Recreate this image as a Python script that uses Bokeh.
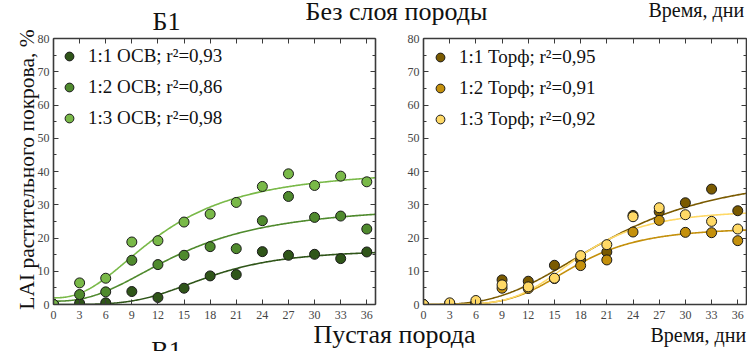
import numpy as np
from bokeh.plotting import figure
from bokeh.models import (LinearAxis, Legend, LegendItem,
                          SingleIntervalTicker, Range1d)
from bokeh.core.properties import value
from bokeh.layouts import row
from bokeh.embed import file_html
from bokeh.resources import INLINE

# ---------------- data ----------------
days = [0, 3, 6, 9, 12, 15, 18, 21, 24, 27, 30, 33, 36]

osv_11 = [0, 0.4, 0.5, 3.9, 2.1, 4.9, 8.6, 9.0, 15.9, 14.8, 15.1, 13.8, 15.8]
osv_12 = [0, 3.0, 3.8, 13.3, 12.0, 14.8, 17.4, 16.8, 25.2, 32.5, 26.2, 26.6, 22.7]
osv_13 = [0, 6.5, 7.9, 18.8, 19.2, 24.8, 27.2, 30.7, 35.5, 39.3, 35.8, 38.6, 36.9]

torf_11 = [0, 0.3, 0.5, 7.4, 7.0, 11.8, 13.4, 15.8, 26.8, 27.9, 30.6, 34.7, 28.2]
torf_12 = [0, 0.2, 0.3, 4.9, 4.8, 7.8, 11.7, 13.4, 21.8, 25.3, 21.7, 21.6, 19.2]
torf_13 = [0, 0.5, 1.2, 5.9, 5.3, 7.9, 14.7, 18.0, 26.4, 29.1, 27.0, 25.0, 22.7]

# fitted logistic curves  y = A2 + (A1 - A2) / (1 + (x / x0) ** p): (A1, A2, x0, p)
fit_osv_11 = (0.0, 16.5, 17.8, 3.9)
fit_osv_12 = (1.0, 30.0, 14.8, 2.41)
fit_osv_13 = (2.0, 41.0, 12.5, 2.33)
fit_torf_11 = (0.0, 40.0, 21.5, 3.0)
fit_torf_12 = (0.0, 23.2, 17.4, 4.4)
fit_torf_13 = (0.0, 28.5, 17.8, 4.5)

labels_osv = ["1:1 ОСВ; r²=0,93", "1:2 ОСВ; r²=0,86", "1:3 ОСВ; r²=0,98"]
labels_torf = ["1:1 Торф; r²=0,95", "1:2 Торф; r²=0,91", "1:3 Торф; r²=0,92"]

colors_osv = ["#2f5519", "#4f8a2d", "#79b948"]
colors_torf = ["#7a5a00", "#c4900c", "#ffd966"]

title_left = "Б1"
title_top = "Без слоя породы"
title_bottom = "Пустая порода"
title_b1 = "В1"
x_title = "Время, дни"
y_title = "LAI растительного покрова, %"

FONT = "Liberation Serif"
AX = "#3a3a3a"


def logistic(x, prm):
    a1, a2, x0, pw = prm
    return a2 + (a1 - a2) / (1.0 + (x / x0) ** pw)


def style_axis(ax, labels=True, minor=True, standoff=4):
    ax.axis_line_color = AX
    ax.axis_line_width = 1.6
    ax.major_tick_line_color = AX
    ax.minor_tick_line_color = AX if minor else None
    ax.major_tick_in = 5
    ax.major_tick_out = 0
    ax.minor_tick_in = 3
    ax.minor_tick_out = 0
    if labels:
        ax.major_label_text_font = FONT
        ax.major_label_text_font_size = "12px"
        ax.major_label_text_color = "#444444"
        ax.major_label_standoff = standoff
    else:
        ax.major_label_text_font_size = "1px"
        ax.major_label_text_color = None
        ax.major_label_text_alpha = 0
        ax.major_label_standoff = 0


def make_panel(width, bl, br, bt, bb, series, fits, colors, labels, leg_pad):
    p = figure(width=width, height=351, x_range=Range1d(0, 37), y_range=Range1d(0, 80),
               output_backend="svg", toolbar_location=None,
               min_border_left=bl, min_border_right=br, min_border_top=bt, min_border_bottom=bb)
    p.xgrid.grid_line_color = None
    p.ygrid.grid_line_color = None
    p.outline_line_color = None
    p.background_fill_color = "white"
    p.xaxis.ticker = SingleIntervalTicker(interval=3, num_minor_ticks=0)
    p.yaxis.ticker = SingleIntervalTicker(interval=10, num_minor_ticks=2)
    style_axis(p.xaxis[0], True, False, 6)
    style_axis(p.yaxis[0], True, True, 4)
    top = LinearAxis(ticker=SingleIntervalTicker(interval=3, num_minor_ticks=0))
    style_axis(top, False, False)
    p.add_layout(top, "above")
    right = LinearAxis(ticker=SingleIntervalTicker(interval=10, num_minor_ticks=2))
    style_axis(right, False, True)
    p.add_layout(right, "right")

    xs = np.linspace(0, 37, 300)
    items = []
    for vals, prm, c, lab in zip(series, fits, colors, labels):
        p.line(xs, logistic(xs, prm), line_color=c, line_width=1.6)
    for vals, prm, c, lab in zip(series, fits, colors, labels):
        r = p.scatter(days, vals, size=10, fill_color=c, line_color="#1a1a1a", line_width=1)
        items.append(LegendItem(label=lab, renderers=[r]))
    leg = Legend(items=items, location="top_left", margin=0, padding=leg_pad,
                 spacing=5, glyph_width=22, glyph_height=26, label_height=26,
                 label_standoff=8, label_text_font=FONT, label_text_font_size="19px",
                 label_text_color="#111111", border_line_alpha=0, background_fill_alpha=0)
    p.add_layout(leg)
    return p


left = make_panel(747, 53, 372, 37, 47, [osv_11, osv_12, osv_13],
                  [fit_osv_11, fit_osv_12, fit_osv_13], colors_osv, labels_osv, 5)
left.border_fill_color = "white"

right = make_panel(349, 25, 1, 38, 46, [torf_11, torf_12, torf_13],
                   [fit_torf_11, fit_torf_12, fit_torf_13], colors_torf, labels_torf, 6)
right.border_fill_alpha = 0
right.margin = (0, 0, 0, -349)

panels = row(left, right)
panels.styles = {"position": "absolute", "left": "0px", "top": "0px"}

# transparent overlay (separate root) holding the figure-level texts (pixel space, y down)
ov = figure(width=747, height=351, x_range=Range1d(0, 747), y_range=Range1d(351, 0),
            x_axis_type=None, y_axis_type=None, output_backend="svg", toolbar_location=None,
            min_border=0, min_border_left=0, min_border_right=0, min_border_top=0,
            min_border_bottom=0)
ov.xgrid.grid_line_color = None
ov.ygrid.grid_line_color = None
ov.outline_line_color = None
ov.background_fill_alpha = 0
ov.border_fill_alpha = 0
ov.styles = {"position": "absolute", "left": "0px", "top": "0px"}


def lab(text, x, y, size, align="left", angle=0.0):
    ov.text(x=[x], y=[y], text=[text], text_font=value(FONT), text_font_size=size,
            text_color="#111111", text_align=align, text_baseline="alphabetic", angle=angle)


lab(title_left, 166, 21, "26px", "center")
lab(title_top, 305, 10.5, "26px")
lab(x_title, 648, 9.5, "20px")
lab(title_bottom, 313, 334, "26px")
lab(x_title, 650, 334.5, "20px")
lab(title_b1, 166, 350, "26px", "center")
lab(y_title, 26, 169, "21.5px", "center", np.pi / 2)

open("out.html", "w").write(file_html([panels, ov], INLINE))
